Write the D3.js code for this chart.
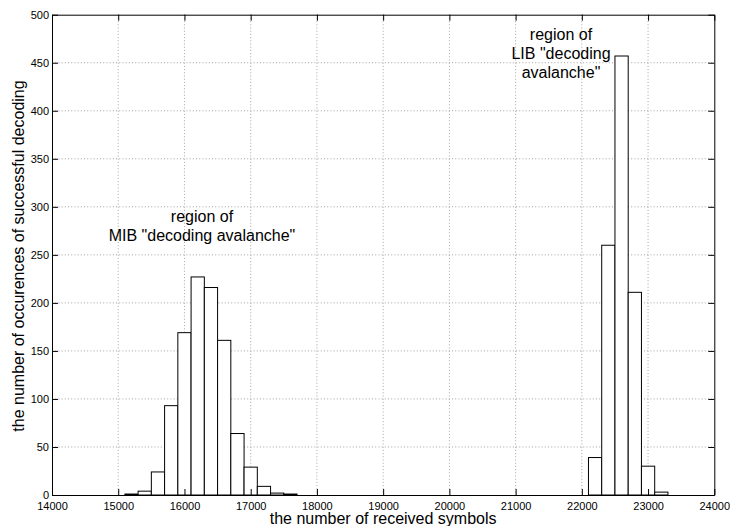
<!DOCTYPE html>
<html>
<head>
<meta charset="utf-8">
<script src="https://cdn.jsdelivr.net/npm/d3@7"></script>
<style>
  html, body { margin: 0; padding: 0; background: #fff; }
  svg { display: block; font-family: "Liberation Sans", Arial, Helvetica, sans-serif; }
</style>
</head>
<body>
<svg id="chart" width="730" height="526"></svg>
<script>
// ---- data ----
const binCenters = [15200, 15400, 15600, 15800, 16000, 16200, 16400, 16600, 16800, 17000, 17200, 17400, 17600,
                    22200, 22400, 22600, 22800, 23000, 23200];
const counts     = [1, 4, 24, 93, 169, 227, 216, 161, 64, 29, 9, 2, 1,
                    39, 260, 457, 211, 30, 3];
const binWidth = 200;
const xTicks = [14000, 15000, 16000, 17000, 18000, 19000, 20000, 21000, 22000, 23000, 24000];
const yTicks = [0, 50, 100, 150, 200, 250, 300, 350, 400, 450, 500];
const xLabel = "the number of received symbols";
const yLabel = "the number of occurences of successful decoding";
const noteMIB = ["region of", "MIB \"decoding avalanche\""];
const noteLIB = ["region of", "LIB \"decoding", "avalanche\""];

// ---- layout ----
const L = 52, R = 714.3, T = 14.7, B = 495;
const svg = d3.select("#chart");
const x = d3.scaleLinear().domain([14000, 24000]).range([L, R]);
const y = d3.scaleLinear().domain([0, 500]).range([B, T]);

// grid
const grid = svg.append("g").attr("stroke", "#8c8c8c").attr("stroke-width", 0.8)
  .attr("stroke-dasharray", "1,2.2");
grid.selectAll("line.gx").data(xTicks.slice(1, -1)).join("line")
  .attr("x1", d => x(d)).attr("x2", d => x(d)).attr("y1", T).attr("y2", B);
grid.selectAll("line.gy").data(yTicks.slice(1, -1)).join("line")
  .attr("y1", d => y(d)).attr("y2", d => y(d)).attr("x1", L).attr("x2", R);

// bars
svg.append("g").selectAll("rect").data(binCenters).join("rect")
  .attr("x", d => x(d - binWidth / 2))
  .attr("width", d => x(d + binWidth / 2) - x(d - binWidth / 2))
  .attr("y", (d, i) => y(counts[i]))
  .attr("height", (d, i) => y(0) - y(counts[i]))
  .attr("fill", "#fff").attr("stroke", "#000").attr("stroke-width", 1);

// axes (MATLAB-style box with inward ticks)
const tl = 6;
const axB = svg.append("g").attr("transform", `translate(0,${B})`)
  .call(d3.axisBottom(x).tickValues(xTicks).tickSizeInner(-tl).tickSizeOuter(0).tickFormat(d3.format("d")));
const axT = svg.append("g").attr("transform", `translate(0,${T})`)
  .call(d3.axisTop(x).tickValues(xTicks).tickSizeInner(-tl).tickSizeOuter(0).tickFormat(""));
const axL = svg.append("g").attr("transform", `translate(${L},0)`)
  .call(d3.axisLeft(y).tickValues(yTicks).tickSizeInner(-tl).tickSizeOuter(0).tickPadding(3).tickFormat(d3.format("d")));
const axR = svg.append("g").attr("transform", `translate(${R},0)`)
  .call(d3.axisRight(y).tickValues(yTicks).tickSizeInner(-tl).tickSizeOuter(0).tickFormat(""));
[axB, axT, axL, axR].forEach(a => {
  a.select(".domain").attr("stroke", "#000").attr("stroke-width", 1);
  a.selectAll(".tick line").attr("stroke", "#000");
  a.selectAll("text").attr("font-size", 11).attr("fill", "#000")
    .attr("font-family", "'Liberation Sans', Arial, sans-serif");
});
axB.selectAll("text").attr("dy", null).attr("y", 14.5);
axL.selectAll("text").attr("dy", "0.35em");

// axis titles
svg.append("text").attr("x", (L + R) / 2).attr("y", 524).attr("text-anchor", "middle")
  .attr("font-size", 16).text(xLabel);
svg.append("text").attr("transform", "translate(24,256) rotate(-90)").attr("text-anchor", "middle")
  .attr("font-size", 16).text(yLabel);

// annotations
function note(lines, cx, y0, dy) {
  svg.append("g").selectAll("text").data(lines).join("text")
    .attr("x", cx).attr("y", (d, i) => y0 + i * dy).attr("text-anchor", "middle")
    .attr("font-size", 16).text(d => d);
}
note(noteMIB, 202, 222, 18.5);
note(noteLIB, 561, 40, 19);
</script>
</body>
</html>
